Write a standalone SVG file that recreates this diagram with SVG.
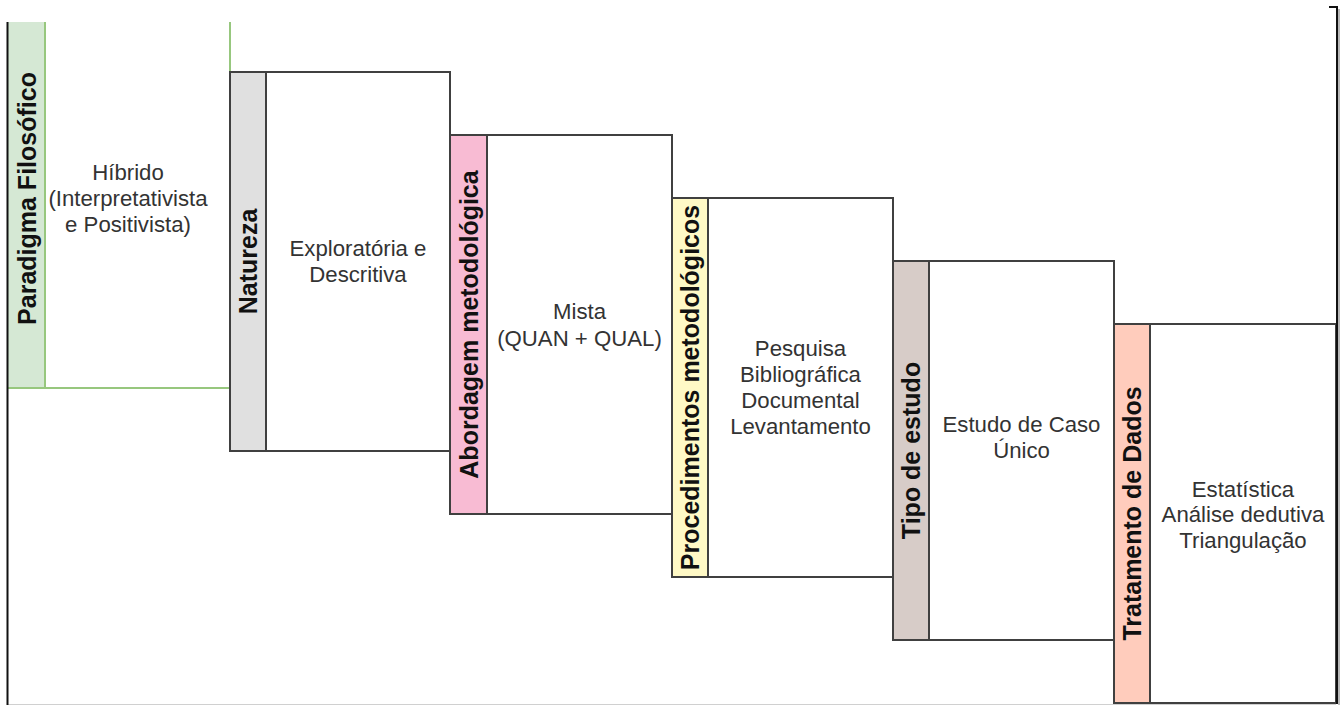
<svg xmlns="http://www.w3.org/2000/svg" width="1343" height="705" viewBox="0 0 1343 705">
  <style>
    .box { fill: #ffffff; stroke: #404040; stroke-width: 2; }
    .hdr { stroke: #404040; stroke-width: 2; }
    .htxt { font-family: "Liberation Sans", Arial, sans-serif; font-size: 25px; font-weight: bold; fill: #111111; text-anchor: middle; }
    .btxt { font-family: "Liberation Sans", Arial, sans-serif; font-size: 22.2px; fill: #333333; text-anchor: middle; }
    .frame { stroke: #111111; stroke-width: 2; fill: none; }
  </style>
  <rect width="1343" height="705" fill="#ffffff"/>

  <!-- Paradigma Filosófico (top edge cut off) -->
  <g id="paradigma">
    <rect x="8" y="22" width="37" height="366" fill="#d5e8d4"/>
    <path d="M45 22 V388 M230 22 V388 M8 388 H230" stroke="#97c77e" stroke-width="2" fill="none"/>
    <text class="htxt" transform="translate(26.5 198.5) rotate(-90)" y="9">Paradigma Filosófico</text>
    <text class="btxt" x="128" y="180">Híbrido</text>
    <text class="btxt" x="128" y="206">(Interpretativista</text>
    <text class="btxt" x="128" y="232">e Positivista)</text>
  </g>

  <g id="natureza">
    <rect class="box" x="230" y="72" width="220" height="379"/>
    <rect class="hdr" x="230" y="72" width="36" height="379" fill="#e0e0e0"/>
    <text class="htxt" transform="translate(248 261.5) rotate(-90)" y="9">Natureza</text>
    <text class="btxt" x="358" y="256">Exploratória e</text>
    <text class="btxt" x="358" y="282">Descritiva</text>
  </g>

  <g id="abordagem">
    <rect class="box" x="450" y="135" width="222" height="379"/>
    <rect class="hdr" x="450" y="135" width="37" height="379" fill="#f8bbd3"/>
    <text class="htxt" transform="translate(468.5 324.5) rotate(-90)" y="9">Abordagem metodológica</text>
    <text class="btxt" x="579.5" y="319">Mista</text>
    <text class="btxt" x="579.5" y="346">(QUAN + QUAL)</text>
  </g>

  <g id="procedimentos">
    <rect class="box" x="672" y="198" width="221" height="379"/>
    <rect class="hdr" x="672" y="198" width="36" height="379" fill="#fff9c6"/>
    <text class="htxt" transform="translate(690 387.5) rotate(-90)" y="9">Procedimentos metodológicos</text>
    <text class="btxt" x="800.5" y="356">Pesquisa</text>
    <text class="btxt" x="800.5" y="382">Bibliográfica</text>
    <text class="btxt" x="800.5" y="408">Documental</text>
    <text class="btxt" x="800.5" y="434">Levantamento</text>
  </g>

  <g id="tipo-estudo">
    <rect class="box" x="893" y="261" width="221" height="379"/>
    <rect class="hdr" x="893" y="261" width="36" height="379" fill="#d7ccc8"/>
    <text class="htxt" transform="translate(911 450.5) rotate(-90)" y="9">Tipo de estudo</text>
    <text class="btxt" x="1021.5" y="432">Estudo de Caso</text>
    <text class="btxt" x="1021.5" y="458">Único</text>
  </g>

  <g id="tratamento">
    <rect class="box" x="1114" y="324" width="222" height="379"/>
    <rect class="hdr" x="1114" y="324" width="36" height="379" fill="#ffccbc"/>
    <text class="htxt" transform="translate(1132 513.5) rotate(-90)" y="9">Tratamento de Dados</text>
    <text class="btxt" x="1243" y="497">Estatística</text>
    <text class="btxt" x="1243" y="522">Análise dedutiva</text>
    <text class="btxt" x="1243" y="548">Triangulação</text>
  </g>

  <!-- outer frame -->
  <g id="connectors">
    <path d="M1339 9 V705" stroke="#b8b8b8" stroke-width="2" fill="none"/>
    <path d="M8 704.5 H1336" stroke="#d0d0d0" stroke-width="1" fill="none"/>
    <path class="frame" d="M7.5 22 V705"/>
    <path class="frame" d="M1329 7 H1337 V704"/>
  </g>
</svg>
